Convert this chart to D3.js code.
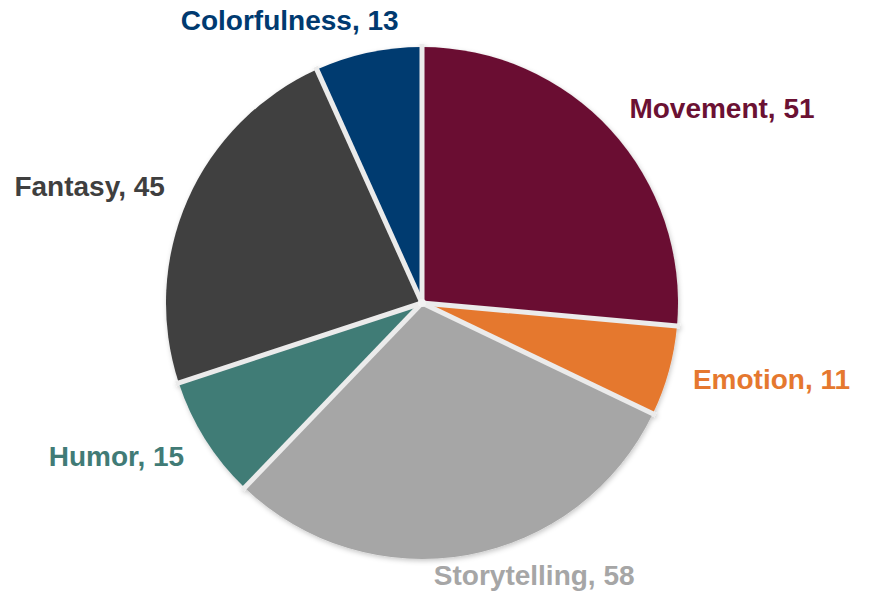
<!DOCTYPE html>
<html><head><meta charset="utf-8">
<script src="https://cdn.jsdelivr.net/npm/d3@7"></script>
<style>body{margin:0;background:#fff;}svg{display:block;}</style>
</head><body>
<svg id="chart" width="869" height="603"></svg>
<script>
const categories = ["Movement","Emotion","Storytelling","Humor","Fantasy","Colorfulness"];
const values = [51, 11, 58, 15, 45, 13];
const colors = ["#6B1133","#E5782F","#A6A6A6","#417B76","#3F3F3F","#003A70"];

const W = 869, H = 603, cx = 422, cy = 303, R = 256, labelR = 281, fontSize = 28;
const svg = d3.select("#chart");
const defs = svg.append("defs");
const f = defs.append("filter").attr("id","sh").attr("x","-20%").attr("y","-20%").attr("width","140%").attr("height","140%");
f.append("feDropShadow").attr("dx",1).attr("dy",2).attr("stdDeviation",2.5).attr("flood-color","#000").attr("flood-opacity",0.22);

const data = categories.map((c,i)=>({name:c, value:values[i], color:colors[i]}));
const pie = d3.pie().value(d=>d.value).sort(null);
const arc = d3.arc().innerRadius(0).outerRadius(R);
const arcs = pie(data);
const g = svg.append("g").attr("transform",`translate(${cx},${cy})`);
const pg = g.append("g").attr("filter","url(#sh)");
pg.selectAll("path").data(arcs).join("path")
  .attr("d",arc).attr("fill",d=>d.data.color);
pg.selectAll("line").data(arcs).join("line")
  .attr("x1",0).attr("y1",0)
  .attr("x2",d=>(R+3)*Math.sin(d.startAngle)).attr("y2",d=>-(R+3)*Math.cos(d.startAngle))
  .attr("stroke","#ebebeb").attr("stroke-width",5);
pg.append("circle").attr("r",4).attr("fill","#f2f2f2");

g.selectAll("text").data(arcs).join("text")
  .each(function(d){
    const a = (d.startAngle+d.endAngle)/2;
    const s = Math.sin(a), c = Math.cos(a);
    let x = labelR*s, y = -labelR*c, anchor;
    if (Math.abs(s) < 0.3) { anchor = "middle"; x = s*630; y = -(c > 0 ? labelR+8 : labelR-4)*c; }
    else { anchor = s > 0 ? "start" : "end"; y = -(labelR+7)*c; }
    d3.select(this).attr("x",x).attr("y",y).attr("text-anchor",anchor)
      .attr("dominant-baseline","central");
  })
  .attr("fill",d=>d.data.color)
  .attr("font-family","'Liberation Sans', Arial, Helvetica, sans-serif")
  .attr("font-weight","bold").attr("font-size",fontSize)
  .text(d=>`${d.data.name}, ${d.data.value}`);
</script>
</body></html>
